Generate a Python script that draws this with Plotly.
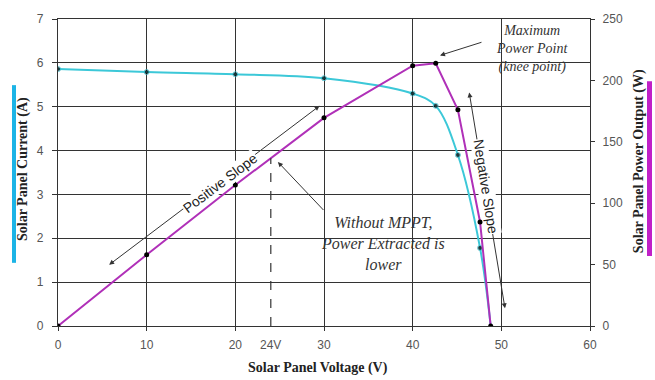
import numpy as np
import plotly.graph_objects as go

# ---- data ----
voltage = [0, 10, 20, 30, 40, 42.6, 45.1, 47.6, 48.8]
current = [5.86, 5.79, 5.74, 5.65, 5.30, 5.02, 3.90, 1.78, 0.0]
power = [0, 58.0, 114.8, 169.5, 212.0, 214.0, 176.0, 84.7, 0.0]
current_marker = [True, True, True, True, True, True, True, True, False]

x_ticks = [0, 10, 20, 30, 40, 50, 60]
y_ticks = [0, 1, 2, 3, 4, 5, 6, 7]
y2_ticks = [0, 50, 100, 150, 200, 250]
no_mppt_voltage = 24
no_mppt_label = "24V"

x_title = "Solar Panel Voltage (V)"
y_title = "Solar Panel Current (A)"
y2_title = "Solar Panel Power Output (W)"

CYAN = "#3cc8d8"
PURPLE = "#b030b8"
GRID = "#333333"
TICKFONT = dict(family="Liberation Sans, Arial", size=12, color="#555")
TITLEFONT = dict(family="Liberation Serif, Times New Roman", size=14, color="#222")
NOTEFONT = dict(family="Liberation Serif, Times New Roman", size=15, color="#333")
SANSNOTE = dict(family="Liberation Sans, Arial", size=14, color="#222")

fig = go.Figure()

# power curve (right axis)
fig.add_trace(go.Scatter(
    x=voltage, y=power, yaxis="y2", mode="lines+markers",
    line=dict(color=PURPLE, width=2),
    marker=dict(color="black", size=5),
    showlegend=False))

# current curve (left axis)
fig.add_trace(go.Scatter(
    x=voltage, y=current, mode="lines+markers",
    line=dict(color=CYAN, width=2, shape="spline"),
    marker=dict(color="black", size=[5 if m else 0 for m in current_marker]),
    showlegend=False))

# dashed line at the fixed (non-MPPT) voltage, up to the power curve
p_at = float(np.interp(no_mppt_voltage, voltage, power))
fig.add_shape(type="line", xref="x", yref="y2",
              x0=no_mppt_voltage, x1=no_mppt_voltage, y0=0, y1=p_at,
              line=dict(color="#333", width=1.2, dash="dash"))

# white masks behind the text boxes (over gridlines, below traces)
W, H = 655, 380
L, R, T, B = 58, 65, 15, 54
pw, ph = W - L - R, H - T - B
def px(xp): return (xp - L) / pw
def py(yp): return (H - B - yp) / ph

fig.add_shape(type="rect", xref="paper", yref="paper", layer="between",
              x0=px(473), x1=px(588), y0=py(80), y1=py(17),
              fillcolor="white", line=dict(width=0))
fig.add_shape(type="rect", xref="paper", yref="paper", layer="between",
              x0=px(293), x1=px(462), y0=py(279), y1=py(208),
              fillcolor="white", line=dict(width=0))

# coloured bars beside axis titles
fig.add_shape(type="rect", xref="paper", yref="paper",
              x0=px(12), x1=px(16), y0=py(262), y1=py(82),
              fillcolor="#1cb4e6", line=dict(width=0))
fig.add_shape(type="rect", xref="paper", yref="paper",
              x0=px(647), x1=px(652), y0=py(255), y1=py(78),
              fillcolor="#c020c8", line=dict(width=0))

C = dict(xanchor="center", yanchor="middle")
ann = []
# positive slope double arrow
ann.append(dict(x=29.5, y=5.02, ax=5.6, ay=1.37, xref="x", yref="y", axref="x", ayref="y",
                text="", showarrow=True, arrowhead=2, startarrowhead=2, arrowside="end+start",
                arrowsize=1, arrowwidth=1, arrowcolor="#333"))
ann.append(dict(x=18.3, y=3.25, xref="x", yref="y", text="Positive Slope", showarrow=False,
                textangle=-37, font=SANSNOTE, bgcolor="white", borderpad=0, **C))
# negative slope double arrow
ann.append(dict(x=50.41, y=0.405, ax=46.35, ay=5.36, xref="x", yref="y", axref="x", ayref="y",
                text="", showarrow=True, arrowhead=2, startarrowhead=2, arrowside="end+start",
                arrowsize=1, arrowwidth=1, arrowcolor="#333"))
ann.append(dict(x=48.27, y=3.17, xref="x", yref="y", text="Negative Slope", showarrow=False,
                textangle=81, font=SANSNOTE, bgcolor="white", borderpad=0, **C))
# maximum power point
ann.append(dict(x=43.08, y=6.17, ax=47.93, ay=6.48, xref="x", yref="y", axref="x", ayref="y",
                text="", showarrow=True, arrowhead=2, arrowsize=1, arrowwidth=1, arrowcolor="#333"))
ann.append(dict(x=53.46, y=6.32, xref="x", yref="y",
                text="<i>Maximum<br>Power Point<br>(knee point)</i>", showarrow=False,
                font=dict(NOTEFONT, size=14), align="center", **C))
# without MPPT
ann.append(dict(x=24.8, y=3.74, ax=30.1, ay=2.61, xref="x", yref="y", axref="x", ayref="y",
                text="", showarrow=True, arrowhead=2, arrowsize=1, arrowwidth=1, arrowcolor="#333"))
ann.append(dict(x=36.65, y=1.87, xref="x", yref="y",
                text="<i>Without MPPT,<br>Power Extracted is<br>lower</i>", showarrow=False,
                font=dict(NOTEFONT, size=16), align="center", **C))
# 24V tick label
ann.append(dict(x=no_mppt_voltage, y=py(345), xref="x", yref="paper",
                text=no_mppt_label, showarrow=False, font=TICKFONT, **C))
# axis titles
ann.append(dict(x=px(318), y=py(369), xref="paper", yref="paper", text="<b>%s</b>" % x_title,
                showarrow=False, font=TITLEFONT, **C))
ann.append(dict(x=px(23), y=py(167), xref="paper", yref="paper", text="<b>%s</b>" % y_title,
                showarrow=False, font=TITLEFONT, textangle=-90, **C))
ann.append(dict(x=px(639), y=py(159), xref="paper", yref="paper", text="<b>%s</b>" % y2_title,
                showarrow=False, font=TITLEFONT, textangle=-90, **C))

fig.update_layout(
    width=W, height=H,
    margin=dict(l=L, r=R, t=T, b=B),
    paper_bgcolor="white", plot_bgcolor="white",
    annotations=ann,
    xaxis=dict(range=[0, 60], tickvals=x_ticks, showgrid=True, gridcolor=GRID, gridwidth=1.3,
               zeroline=False, showline=True, mirror=True, linecolor="#333", linewidth=1.3,
               ticks="outside", ticklen=4, tickcolor="#333", tickfont=TICKFONT,
               ticklabelstandoff=3),
    yaxis=dict(range=[0, 7], tickvals=y_ticks, showgrid=True, gridcolor=GRID, gridwidth=1.3,
               zeroline=False, showline=True, linecolor="#333", linewidth=1.3,
               ticks="outside", ticklen=5, tickcolor="#333", tickfont=TICKFONT,
               ticklabelstandoff=6),
    yaxis2=dict(range=[0, 250], tickvals=y2_ticks, overlaying="y", side="right",
                showgrid=False, zeroline=False, showline=True, linecolor="#333", linewidth=1.3,
                ticks="outside", ticklen=4, tickcolor="#333", tickfont=TICKFONT,
                ticklabelstandoff=5),
)

fig.write_html("out.html")
